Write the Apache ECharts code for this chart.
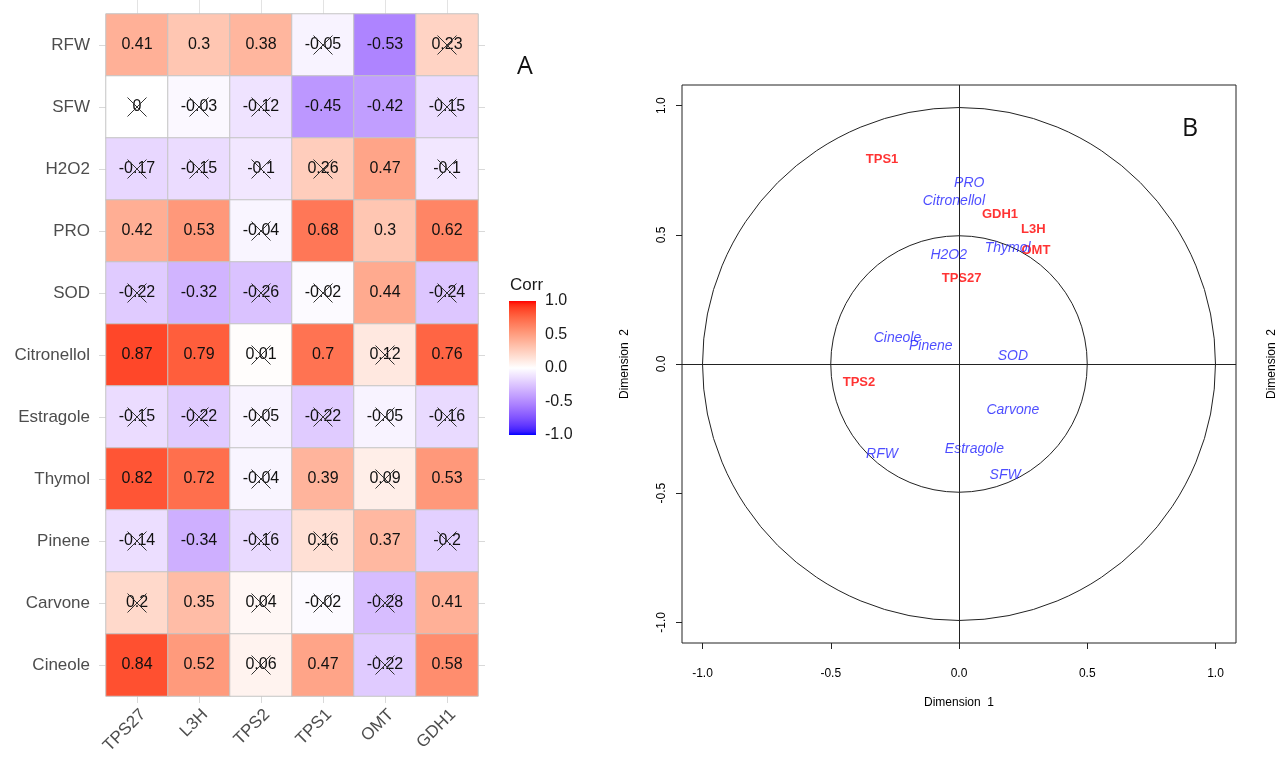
<!DOCTYPE html>
<html>
<head>
<meta charset="utf-8">
<title>Corr heatmap + correlation circle</title>
<script src="https://cdn.jsdelivr.net/npm/echarts@6/dist/echarts.min.js"></script>
<style>
  html, body { margin: 0; padding: 0; background: #fff; }
  #main { width: 1279px; height: 758px; }
</style>
</head>
<body>
<div id="main"></div>
<script>
// ---- data: panel A (correlation heatmap) ----
var rowNames = ['RFW', 'SFW', 'H2O2', 'PRO', 'SOD', 'Citronellol', 'Estragole', 'Thymol', 'Pinene', 'Carvone', 'Cineole'];
var colNames = ['TPS27', 'L3H', 'TPS2', 'TPS1', 'OMT', 'GDH1'];
var corrValues = [
    [0.41, 0.3, 0.38, -0.05, -0.53, 0.23],
    [0, -0.03, -0.12, -0.45, -0.42, -0.15],
    [-0.17, -0.15, -0.1, 0.26, 0.47, -0.1],
    [0.42, 0.53, -0.04, 0.68, 0.3, 0.62],
    [-0.22, -0.32, -0.26, -0.02, 0.44, -0.24],
    [0.87, 0.79, 0.01, 0.7, 0.12, 0.76],
    [-0.15, -0.22, -0.05, -0.22, -0.05, -0.16],
    [0.82, 0.72, -0.04, 0.39, 0.09, 0.53],
    [-0.14, -0.34, -0.16, 0.16, 0.37, -0.2],
    [0.2, 0.35, 0.04, -0.02, -0.28, 0.41],
    [0.84, 0.52, 0.06, 0.47, -0.22, 0.58]
];
// 1 = not significant (crossed out)
var crossed = [
    [0, 0, 0, 1, 0, 1],
    [1, 1, 1, 0, 0, 1],
    [1, 1, 1, 1, 0, 1],
    [0, 0, 1, 0, 0, 0],
    [1, 0, 1, 1, 0, 1],
    [0, 0, 1, 0, 1, 0],
    [1, 1, 1, 1, 1, 1],
    [0, 0, 1, 0, 1, 0],
    [1, 0, 1, 1, 0, 1],
    [1, 0, 1, 1, 1, 0],
    [0, 0, 1, 0, 1, 0]
];

// ---- data: panel B (correlation circle) ----
var geneNames = ['TPS1', 'GDH1', 'L3H', 'OMT', 'TPS27', 'TPS2'];
var geneDim1 = [-0.30, 0.16, 0.29, 0.30, 0.01, -0.39];
var geneDim2 = [0.79, 0.58, 0.52, 0.44, 0.33, -0.07];
var varNames = ['PRO', 'Citronellol', 'H2O2', 'Thymol', 'Cineole', 'Pinene', 'SOD', 'Carvone', 'Estragole', 'RFW', 'SFW'];
var varDim1 = [0.04, -0.02, -0.04, 0.19, -0.24, -0.11, 0.21, 0.21, 0.06, -0.30, 0.18];
var varDim2 = [0.70, 0.63, 0.42, 0.45, 0.10, 0.07, 0.03, -0.18, -0.33, -0.35, -0.43];
var circleRadii = [1, 0.5];
var dimTicks = [-1, -0.5, 0, 0.5, 1];

// ---- colour ramp blue-white-red, interpolated in Lab like ggplot ----
function hexToLab(hex) {
    function lin(c) { return c <= 0.04045 ? c / 12.92 : Math.pow((c + 0.055) / 1.055, 2.4); }
    var r = lin(parseInt(hex.slice(1, 3), 16) / 255);
    var g = lin(parseInt(hex.slice(3, 5), 16) / 255);
    var b = lin(parseInt(hex.slice(5, 7), 16) / 255);
    var X = (r * 0.4124 + g * 0.3576 + b * 0.1805) / 0.95047;
    var Y = (r * 0.2126 + g * 0.7152 + b * 0.0722);
    var Z = (r * 0.0193 + g * 0.1192 + b * 0.9505) / 1.08883;
    function f(t) { return t > 0.008856 ? Math.cbrt(t) : 7.787 * t + 16 / 116; }
    var fx = f(X), fy = f(Y), fz = f(Z);
    return [116 * fy - 16, 500 * (fx - fy), 200 * (fy - fz)];
}
function labToHex(lab) {
    var fy = (lab[0] + 16) / 116, fx = fy + lab[1] / 500, fz = fy - lab[2] / 200;
    function finv(t) { var t3 = t * t * t; return t3 > 0.008856 ? t3 : (t - 16 / 116) / 7.787; }
    var X = finv(fx) * 0.95047, Y = finv(fy), Z = finv(fz) * 1.08883;
    var rgb = [
        X * 3.2406 - Y * 1.5372 - Z * 0.4986,
        -X * 0.9689 + Y * 1.8758 + Z * 0.0415,
        X * 0.0557 - Y * 0.2040 + Z * 1.0570
    ];
    return '#' + rgb.map(function (c) {
        c = c <= 0.0031308 ? 12.92 * c : 1.055 * Math.pow(c, 1 / 2.4) - 0.055;
        var v = Math.round(Math.max(0, Math.min(1, c)) * 255);
        return (v < 16 ? '0' : '') + v.toString(16);
    }).join('');
}
var labLow = hexToLab('#0000ff'), labMid = hexToLab('#ffffff'), labHigh = hexToLab('#ff0000');
function rampColor(t) {
    var end = t < 0 ? labLow : labHigh, k = Math.abs(t);
    return labToHex([0, 1, 2].map(function (i) { return labMid[i] + (end[i] - labMid[i]) * k; }));
}
var rampStops = [];
for (var i = 0; i <= 40; i++) rampStops.push(rampColor(-1 + i / 20));

// ---- build series data ----
var heatData = [], crossData = [];
corrValues.forEach(function (row, r) {
    row.forEach(function (v, c) {
        heatData.push([c, r, v]);
        if (crossed[r][c]) crossData.push([c, r]);
    });
});
var geneData = geneNames.map(function (n, i) { return { name: n, value: [geneDim1[i], geneDim2[i]] }; });
var varData = varNames.map(function (n, i) { return { name: n, value: [varDim1[i], varDim2[i]] }; });

var myChart = echarts.init(document.getElementById('main'), null, { renderer: 'canvas' });
var FONT = 'Liberation Sans, Arial, sans-serif';
var gridTick = { show: true, length: 7, lineStyle: { color: '#d9d9d9', width: 1 } };

var option = {
    animation: false,
    backgroundColor: '#fff',
    textStyle: { fontFamily: FONT },
    grid: [
        { left: 106, top: 14, width: 372, height: 682 },   // heatmap
        { left: 509, top: 301, width: 27, height: 134 },   // colour bar
        { left: 682, top: 85, width: 558, height: 558, show: true, borderColor: '#222', borderWidth: 1 } // circle
    ],
    visualMap: {
        show: false, type: 'continuous', min: -1, max: 1, dimension: 2, seriesIndex: 0,
        inRange: { color: rampStops }
    },
    xAxis: [
        {
            gridIndex: 0, type: 'category', data: colNames, position: 'bottom',
            axisLine: { show: false }, splitLine: { show: false },
            axisTick: Object.assign({ alignWithLabel: true }, gridTick),
            axisLabel: { interval: 0, rotate: 45, verticalAlign: 'top', fontSize: 17, color: '#4d4d4d', margin: 10 }
        },
        {
            gridIndex: 0, type: 'category', data: colNames, position: 'top',
            axisLine: { show: false }, axisLabel: { show: false }, splitLine: { show: false },
            axisTick: { show: true, alignWithLabel: true, length: 14, lineStyle: { color: '#e3e3e3' } }
        },
        {
            gridIndex: 1, type: 'value', min: 0, max: 1, show: false
        },
        {
            gridIndex: 2, type: 'value', min: -1.08, max: 1.08, position: 'bottom',
            name: 'Dimension  1', nameLocation: 'middle', nameGap: 54,
            nameTextStyle: { fontSize: 12, color: '#000' },
            axisLine: { show: false, onZero: false }, splitLine: { show: false },
            axisTick: { show: true, length: 6, customValues: dimTicks, lineStyle: { color: '#222' } },
            axisLabel: { customValues: dimTicks, fontSize: 12, color: '#000', margin: 25,
                formatter: function (v) { return v.toFixed(1); } }
        }
    ],
    yAxis: [
        {
            gridIndex: 0, type: 'category', data: rowNames, inverse: true,
            axisLine: { show: false }, splitLine: { show: false },
            axisTick: Object.assign({ alignWithLabel: true }, gridTick),
            axisLabel: { interval: 0, fontSize: 17, color: '#4d4d4d', margin: 16 }
        },
        {
            gridIndex: 0, type: 'category', data: rowNames, inverse: true, position: 'right',
            axisLine: { show: false }, axisLabel: { show: false }, splitLine: { show: false },
            axisTick: Object.assign({ alignWithLabel: true }, gridTick)
        },
        {
            gridIndex: 1, type: 'value', min: -1, max: 1, interval: 0.5, position: 'right',
            axisLine: { show: false }, splitLine: { show: false },
            axisTick: { show: true, inside: true, length: 5, lineStyle: { color: '#fff', width: 1 } },
            axisLabel: { fontSize: 16, color: '#1a1a1a', margin: 9,
                formatter: function (v) { return v.toFixed(1); } }
        },
        {
            gridIndex: 1, type: 'value', min: -1, max: 1, interval: 0.5, position: 'left',
            axisLine: { show: false }, splitLine: { show: false }, axisLabel: { show: false },
            axisTick: { show: true, inside: true, length: 5, lineStyle: { color: '#fff', width: 1 } }
        },
        {
            gridIndex: 2, type: 'value', min: -1.08, max: 1.08, position: 'left',
            name: 'Dimension  2', nameLocation: 'middle', nameGap: 51, nameRotate: 90,
            nameTextStyle: { fontSize: 12, color: '#000' },
            axisLine: { show: false, onZero: false }, splitLine: { show: false },
            axisTick: { show: true, length: 6, customValues: dimTicks, lineStyle: { color: '#222' } },
            axisLabel: { customValues: dimTicks, rotate: 90, fontSize: 12, color: '#000', margin: 14,
                formatter: function (v) { return v.toFixed(1); } }
        },
        {
            gridIndex: 2, type: 'value', min: -1.08, max: 1.08, position: 'right',
            name: 'Dimension  2', nameLocation: 'middle', nameGap: 30, nameRotate: 90,
            nameTextStyle: { fontSize: 12, color: '#000' },
            axisLine: { show: false, onZero: false }, axisTick: { show: false }, axisLabel: { show: false }, splitLine: { show: false }
        }
    ],
    series: [
        {
            name: 'Corr', type: 'heatmap', xAxisIndex: 0, yAxisIndex: 0, data: heatData,
            itemStyle: { borderColor: '#c4c4c4', borderWidth: 1 },
            label: {
                show: true, fontSize: 16, color: '#111', fontFamily: FONT,
                formatter: function (p) { return String(p.value[2]); }
            },
            emphasis: { disabled: true }
        },
        {
            name: 'crosses', type: 'custom', xAxisIndex: 0, yAxisIndex: 0, data: crossData, silent: true,
            renderItem: function (params, api) {
                var p = api.coord([api.value(0), api.value(1)]);
                var h = 9.5;
                return {
                    type: 'group',
                    children: [
                        { type: 'line', shape: { x1: p[0] - h, y1: p[1] - h, x2: p[0] + h, y2: p[1] + h },
                          style: { stroke: '#333', lineWidth: 1 } },
                        { type: 'line', shape: { x1: p[0] - h, y1: p[1] + h, x2: p[0] + h, y2: p[1] - h },
                          style: { stroke: '#333', lineWidth: 1 } }
                    ]
                };
            },
            z: 5
        },
        {
            name: 'colourbar', type: 'custom', xAxisIndex: 2, yAxisIndex: 2, data: [[0, 1]], silent: true,
            renderItem: function (params, api) {
                var tl = api.coord([0, 1]), br = api.coord([1, -1]);
                var stops = rampStops.slice().reverse().map(function (c, i, a) {
                    return { offset: i / (a.length - 1), color: c };
                });
                return {
                    type: 'rect',
                    shape: { x: tl[0], y: tl[1], width: br[0] - tl[0], height: br[1] - tl[1] },
                    style: { fill: new echarts.graphic.LinearGradient(0, 0, 0, 1, stops) }
                };
            },
            z: 1
        },
        {
            name: 'circles', type: 'custom', xAxisIndex: 3, yAxisIndex: 4, data: circleRadii, silent: true,
            renderItem: function (params, api) {
                var c = api.coord([0, 0]);
                var r = api.size([api.value(0), 0])[0];
                return {
                    type: 'circle', shape: { cx: c[0], cy: c[1], r: r },
                    style: { fill: 'none', stroke: '#222', lineWidth: 1 }
                };
            },
            markLine: {
                silent: true, symbol: 'none', label: { show: false },
                lineStyle: { color: '#222', width: 1, type: 'solid' },
                data: [{ xAxis: 0 }, { yAxis: 0 }]
            }
        },
        {
            name: 'genes', type: 'scatter', xAxisIndex: 3, yAxisIndex: 4, data: geneData,
            symbolSize: 1, itemStyle: { color: 'rgba(0,0,0,0)' }, silent: true,
            label: {
                show: true, position: 'inside', formatter: '{b}',
                color: '#ff0000', fontWeight: 'bold', fontSize: 13, fontFamily: FONT
            },
            z: 4
        },
        {
            name: 'variables', type: 'scatter', xAxisIndex: 3, yAxisIndex: 4, data: varData,
            symbolSize: 1, itemStyle: { color: 'rgba(0,0,0,0)' }, silent: true,
            label: {
                show: true, position: 'inside', formatter: '{b}',
                color: '#1f1fff', fontStyle: 'italic', fontSize: 14, fontFamily: FONT
            },
            z: 4
        }
    ],
    graphic: [
        { type: 'text', left: 510, top: 277, style: { text: 'Corr', fontSize: 17, fill: '#1a1a1a', fontFamily: FONT } },
        { type: 'text', left: 517, top: 54, style: { text: 'A', fontSize: 25, fill: '#111', fontFamily: 'Open Sans, Noto Sans, sans-serif' } },
        { type: 'text', left: 1182, top: 116, style: { text: 'B', fontSize: 25, fill: '#111', fontFamily: 'Open Sans, Noto Sans, sans-serif' } }
    ]
};
myChart.setOption(option);
</script>
</body>
</html>
